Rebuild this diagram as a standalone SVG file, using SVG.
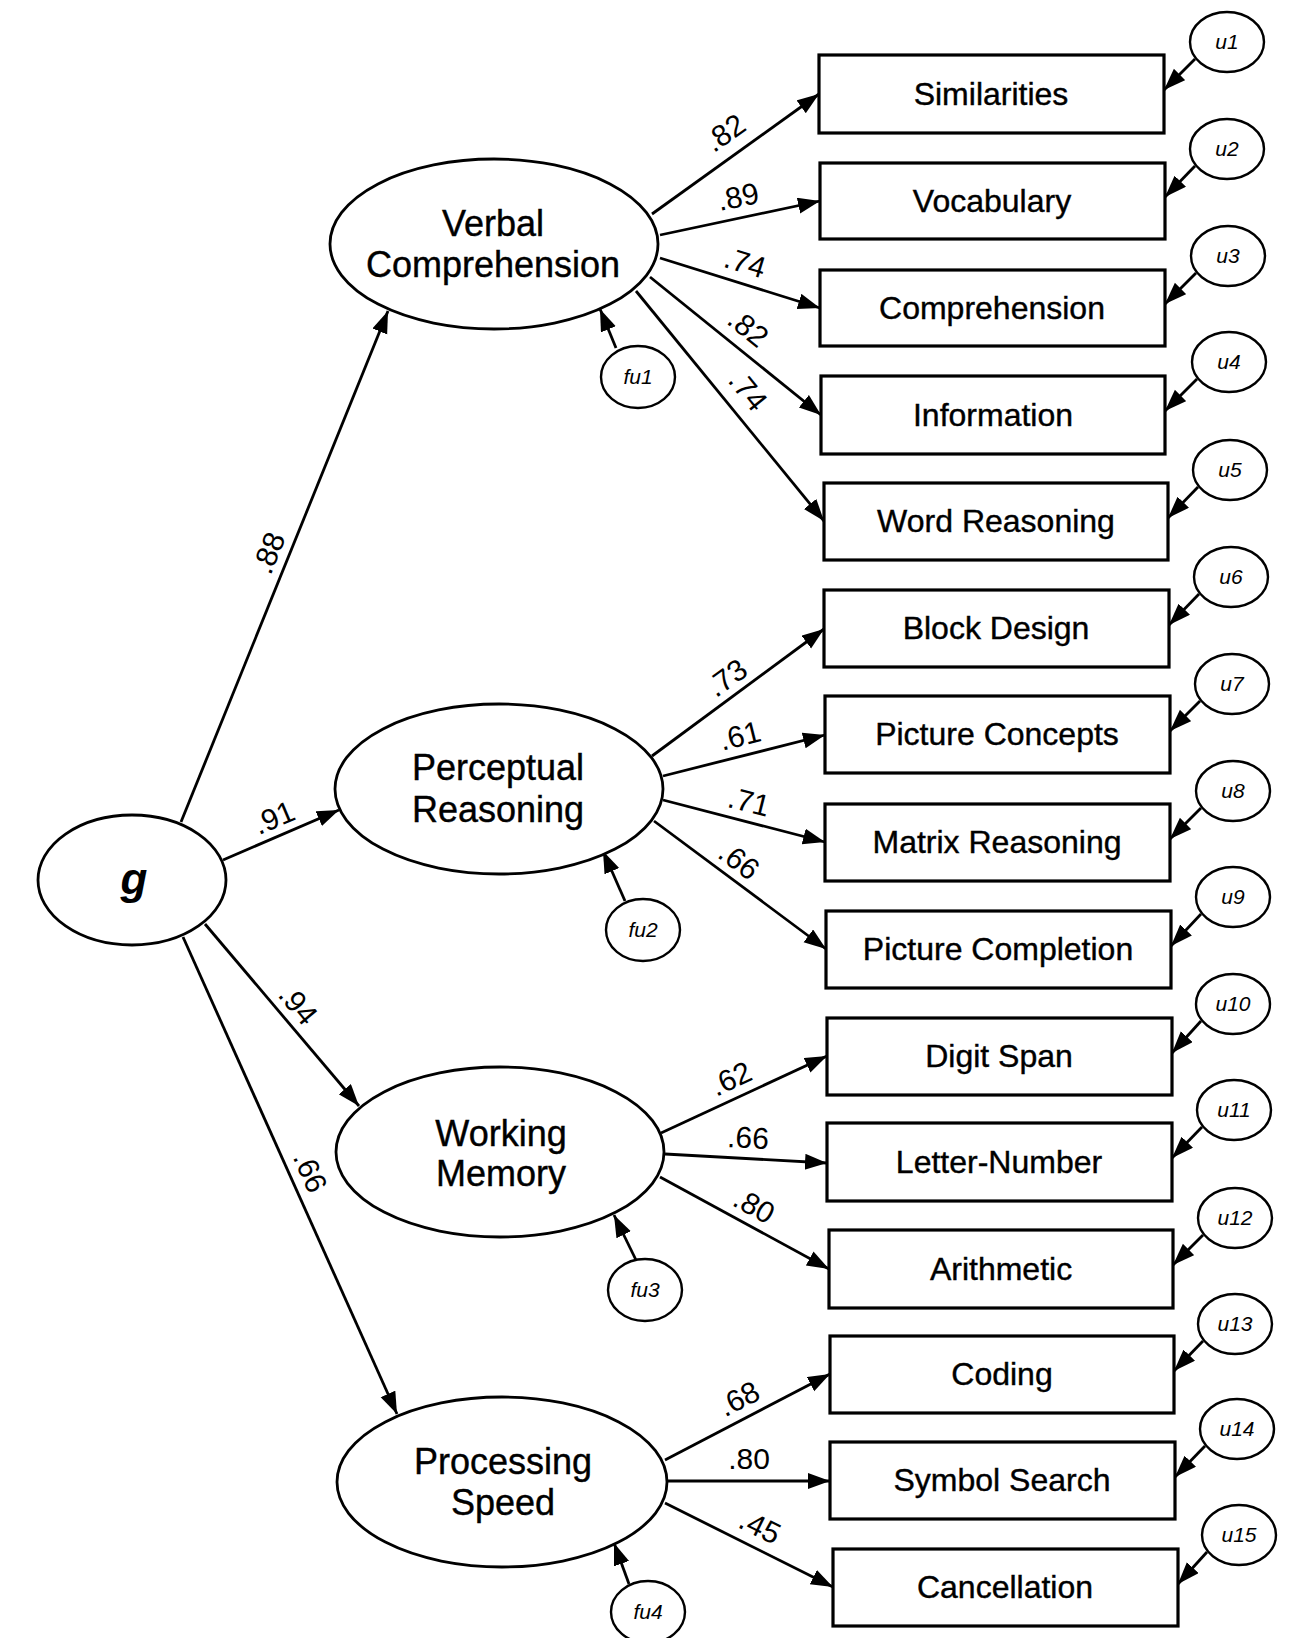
<svg xmlns="http://www.w3.org/2000/svg" width="1295" height="1638" viewBox="0 0 1295 1638">
<defs>
<marker id="ah" markerUnits="userSpaceOnUse" markerWidth="24" markerHeight="18" refX="22" refY="8" orient="auto">
<path d="M0,0 L22,8 L0,16 z" fill="#000"/>
</marker>
<style>
.lat{fill:#fff;stroke:#000;stroke-width:2.8}
.box{fill:#fff;stroke:#000;stroke-width:3.2}
.err{fill:#fff;stroke:#000;stroke-width:2.4}
.c{stroke:#000;stroke-width:2.8;fill:none;marker-end:url(#ah)}
.lt{font-family:"Liberation Sans",Arial,sans-serif;font-size:36px;text-anchor:middle;fill:#000;stroke:#000;stroke-width:0.4}
.bt{font-family:"Liberation Sans",Arial,sans-serif;font-size:32px;text-anchor:middle;fill:#000;stroke:#000;stroke-width:0.4}
.et{font-family:"Liberation Sans",Arial,sans-serif;font-size:21px;font-style:italic;text-anchor:middle;fill:#000}
.w{font-family:"Liberation Sans",Arial,sans-serif;font-size:30px;text-anchor:middle;fill:#000}
</style>
</defs>
<rect width="1295" height="1638" fill="#fff"/>

<g id="connectors">
<line class="c" x1="181" y1="822" x2="388" y2="311"/>
<line class="c" x1="223" y1="860" x2="339" y2="810"/>
<line class="c" x1="205" y1="924" x2="359" y2="1106"/>
<line class="c" x1="183" y1="937" x2="397" y2="1414"/>
<line class="c" x1="616" y1="348" x2="600" y2="309"/>
<line class="c" x1="625" y1="901" x2="603" y2="851"/>
<line class="c" x1="636" y1="1260" x2="614" y2="1215"/>
<line class="c" x1="629" y1="1584" x2="614" y2="1543"/>
<line class="c" x1="652" y1="214" x2="819" y2="94"/>
<line class="c" x1="660" y1="235" x2="820" y2="201"/>
<line class="c" x1="660" y1="258" x2="820" y2="308"/>
<line class="c" x1="650" y1="277" x2="821" y2="415"/>
<line class="c" x1="636" y1="291" x2="824" y2="521"/>
<line class="c" x1="652" y1="756" x2="824" y2="629"/>
<line class="c" x1="663" y1="776" x2="825" y2="735"/>
<line class="c" x1="663" y1="800" x2="825" y2="842"/>
<line class="c" x1="654" y1="821" x2="826" y2="949"/>
<line class="c" x1="661" y1="1133" x2="827" y2="1056"/>
<line class="c" x1="665" y1="1154" x2="827" y2="1163"/>
<line class="c" x1="660" y1="1177" x2="829" y2="1269"/>
<line class="c" x1="665" y1="1460" x2="830" y2="1374"/>
<line class="c" x1="667" y1="1481" x2="830" y2="1481"/>
<line class="c" x1="665" y1="1503" x2="833" y2="1587"/>
<line class="c" x1="1195" y1="59" x2="1164" y2="90"/>
<line class="c" x1="1195" y1="166" x2="1165" y2="197"/>
<line class="c" x1="1196" y1="273" x2="1165" y2="304"/>
<line class="c" x1="1197" y1="379" x2="1165" y2="411"/>
<line class="c" x1="1198" y1="487" x2="1168" y2="518"/>
<line class="c" x1="1199" y1="594" x2="1169" y2="625"/>
<line class="c" x1="1200" y1="701" x2="1170" y2="731"/>
<line class="c" x1="1201" y1="808" x2="1170" y2="839"/>
<line class="c" x1="1201" y1="914" x2="1171" y2="946"/>
<line class="c" x1="1201" y1="1021" x2="1172" y2="1053"/>
<line class="c" x1="1202" y1="1127" x2="1172" y2="1158"/>
<line class="c" x1="1203" y1="1235" x2="1173" y2="1265"/>
<line class="c" x1="1203" y1="1341" x2="1174" y2="1371"/>
<line class="c" x1="1205" y1="1446" x2="1175" y2="1477"/>
<line class="c" x1="1207" y1="1552" x2="1178" y2="1584"/>
<text class="w" transform="translate(269,553) rotate(-68)" y="10">.88</text>
<text class="w" transform="translate(274,818) rotate(-23)" y="10">.91</text>
<text class="w" transform="translate(298,1005) rotate(50)" y="10">.94</text>
<text class="w" transform="translate(310,1172) rotate(66)" y="10">.66</text>
<text class="w" transform="translate(725,133) rotate(-35)" y="10">.82</text>
<text class="w" transform="translate(738,197) rotate(-12)" y="10">.89</text>
<text class="w" transform="translate(745,263) rotate(17)" y="10">.74</text>
<text class="w" transform="translate(748,328) rotate(39)" y="10">.82</text>
<text class="w" transform="translate(748,391) rotate(51)" y="10">.74</text>
<text class="w" transform="translate(727,678) rotate(-36)" y="10">.73</text>
<text class="w" transform="translate(740,736) rotate(-14)" y="10">.61</text>
<text class="w" transform="translate(749,802) rotate(14)" y="10">.71</text>
<text class="w" transform="translate(739,861) rotate(37)" y="10">.66</text>
<text class="w" transform="translate(731,1079) rotate(-25)" y="10">.62</text>
<text class="w" transform="translate(748,1138) rotate(3)" y="10">.66</text>
<text class="w" transform="translate(754,1206) rotate(29)" y="10">.80</text>
<text class="w" transform="translate(739,1399) rotate(-27)" y="10">.68</text>
<text class="w" transform="translate(749,1459)" y="10">.80</text>
<text class="w" transform="translate(760,1527) rotate(26)" y="10">.45</text>
</g>

<g id="g"><ellipse class="lat" cx="132" cy="880" rx="94" ry="65"/><text x="134" y="894" font-family="Liberation Sans, Arial, sans-serif" font-size="44" font-weight="bold" font-style="italic" text-anchor="middle">g</text></g>

<g id="vc"><ellipse class="lat" cx="494" cy="244" rx="164" ry="85"/><text class="lt" x="493" y="236">Verbal</text><text class="lt" x="493" y="277">Comprehension</text></g>
<g id="pr"><ellipse class="lat" cx="499" cy="789" rx="164" ry="85"/><text class="lt" x="498" y="780">Perceptual</text><text class="lt" x="498" y="822">Reasoning</text></g>
<g id="wm"><ellipse class="lat" cx="500" cy="1152" rx="164" ry="85"/><text class="lt" x="501" y="1146">Working</text><text class="lt" x="501" y="1186">Memory</text></g>
<g id="ps"><ellipse class="lat" cx="502" cy="1482" rx="165" ry="85"/><text class="lt" x="503" y="1474">Processing</text><text class="lt" x="503" y="1515">Speed</text></g>

<g id="fu1"><ellipse class="err" cx="638" cy="377" rx="37" ry="31"/><text class="et" x="638" y="384">fu1</text></g>
<g id="fu2"><ellipse class="err" cx="643" cy="930" rx="37" ry="31"/><text class="et" x="643" y="937">fu2</text></g>
<g id="fu3"><ellipse class="err" cx="645" cy="1290" rx="37" ry="31"/><text class="et" x="645" y="1297">fu3</text></g>
<g id="fu4"><ellipse class="err" cx="648" cy="1612" rx="37" ry="31"/><text class="et" x="648" y="1619">fu4</text></g>

<g id="b1"><rect class="box" x="819" y="55" width="345" height="78"/><text class="bt" x="991" y="105">Similarities</text></g>
<g id="b2"><rect class="box" x="820" y="163" width="345" height="76"/><text class="bt" x="992" y="212">Vocabulary</text></g>
<g id="b3"><rect class="box" x="820" y="270" width="345" height="76"/><text class="bt" x="992" y="319">Comprehension</text></g>
<g id="b4"><rect class="box" x="821" y="376" width="344" height="78"/><text class="bt" x="993" y="426">Information</text></g>
<g id="b5"><rect class="box" x="824" y="483" width="344" height="77"/><text class="bt" x="996" y="532">Word Reasoning</text></g>
<g id="b6"><rect class="box" x="824" y="590" width="345" height="77"/><text class="bt" x="996" y="639">Block Design</text></g>
<g id="b7"><rect class="box" x="825" y="696" width="345" height="77"/><text class="bt" x="997" y="745">Picture Concepts</text></g>
<g id="b8"><rect class="box" x="825" y="804" width="345" height="77"/><text class="bt" x="997" y="853">Matrix Reasoning</text></g>
<g id="b9"><rect class="box" x="826" y="911" width="345" height="77"/><text class="bt" x="998" y="960">Picture Completion</text></g>
<g id="b10"><rect class="box" x="827" y="1018" width="345" height="77"/><text class="bt" x="999" y="1067">Digit Span</text></g>
<g id="b11"><rect class="box" x="827" y="1123" width="345" height="78"/><text class="bt" x="999" y="1173">Letter-Number</text></g>
<g id="b12"><rect class="box" x="829" y="1230" width="344" height="78"/><text class="bt" x="1001" y="1280">Arithmetic</text></g>
<g id="b13"><rect class="box" x="830" y="1336" width="344" height="77"/><text class="bt" x="1002" y="1385">Coding</text></g>
<g id="b14"><rect class="box" x="830" y="1442" width="345" height="77"/><text class="bt" x="1002" y="1491">Symbol Search</text></g>
<g id="b15"><rect class="box" x="833" y="1549" width="345" height="77"/><text class="bt" x="1005" y="1598">Cancellation</text></g>

<g id="u1"><ellipse class="err" cx="1227" cy="42" rx="37" ry="30"/><text class="et" x="1227" y="49">u1</text></g>
<g id="u2"><ellipse class="err" cx="1227" cy="149" rx="37" ry="30"/><text class="et" x="1227" y="156">u2</text></g>
<g id="u3"><ellipse class="err" cx="1228" cy="256" rx="37" ry="30"/><text class="et" x="1228" y="263">u3</text></g>
<g id="u4"><ellipse class="err" cx="1229" cy="362" rx="37" ry="30"/><text class="et" x="1229" y="369">u4</text></g>
<g id="u5"><ellipse class="err" cx="1230" cy="470" rx="37" ry="30"/><text class="et" x="1230" y="477">u5</text></g>
<g id="u6"><ellipse class="err" cx="1231" cy="577" rx="37" ry="30"/><text class="et" x="1231" y="584">u6</text></g>
<g id="u7"><ellipse class="err" cx="1232" cy="684" rx="37" ry="30"/><text class="et" x="1232" y="691">u7</text></g>
<g id="u8"><ellipse class="err" cx="1233" cy="791" rx="37" ry="30"/><text class="et" x="1233" y="798">u8</text></g>
<g id="u9"><ellipse class="err" cx="1233" cy="897" rx="37" ry="30"/><text class="et" x="1233" y="904">u9</text></g>
<g id="u10"><ellipse class="err" cx="1233" cy="1004" rx="37" ry="30"/><text class="et" x="1233" y="1011">u10</text></g>
<g id="u11"><ellipse class="err" cx="1234" cy="1110" rx="37" ry="30"/><text class="et" x="1234" y="1117">u11</text></g>
<g id="u12"><ellipse class="err" cx="1235" cy="1218" rx="37" ry="30"/><text class="et" x="1235" y="1225">u12</text></g>
<g id="u13"><ellipse class="err" cx="1235" cy="1324" rx="37" ry="30"/><text class="et" x="1235" y="1331">u13</text></g>
<g id="u14"><ellipse class="err" cx="1237" cy="1429" rx="37" ry="30"/><text class="et" x="1237" y="1436">u14</text></g>
<g id="u15"><ellipse class="err" cx="1239" cy="1535" rx="37" ry="30"/><text class="et" x="1239" y="1542">u15</text></g>
</svg>
